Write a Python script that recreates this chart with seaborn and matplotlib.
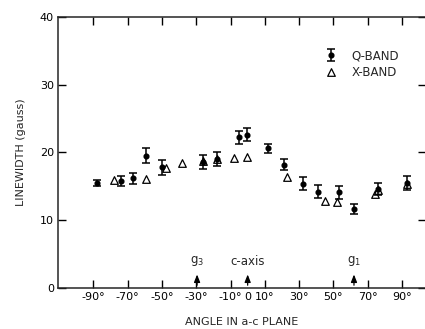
import seaborn as sns
import pandas as pd
import matplotlib
matplotlib.use("Agg")
import matplotlib.pyplot as plt

# Q-band linewidths (with error bars) and X-band linewidths, angle in a-c plane
q_angle = [-88, -74, -67, -59, -50, -26, -18, -5, -0.5, 12, 21, 32, 41, 53, 62, 76, 93]
q_width = [15.5, 15.8, 16.2, 19.5, 17.8, 18.6, 19.0, 22.2, 22.6, 20.6, 18.2, 15.4, 14.2, 14.1, 11.7, 14.6, 15.5]
q_err = [0.4, 0.75, 0.8, 1.1, 1.1, 1.0, 1.0, 0.95, 1.0, 0.65, 0.8, 1.0, 1.0, 1.0, 0.75, 0.9, 1.0]

x_angle = [-78, -59, -47.5, -38, -26, -18, -8, -0.5, 23, 45, 52, 74, 76, 93]
x_width = [15.9, 16.1, 17.7, 18.4, 18.7, 19.0, 19.2, 19.3, 16.3, 12.9, 12.7, 13.8, 14.5, 15.4]

tick_pos = [-90, -70, -50, -30, -10, 0, 10, 30, 50, 70, 90]
tick_text = ["-90°", "-70°", "-50°", "-30°", "-10°", "0", "10°", "30°", "50°", "70°", "90°"]

# marked axes directions: label, angle
marks = [("g$_3$", -29.5), ("c-axis", 0), ("g$_1$", 62)]

q_data = pd.DataFrame({"angle": q_angle, "width": q_width, "err": q_err})
x_data = pd.DataFrame({"angle": x_angle, "width": x_width})

sns.set_style("ticks")
plt.rcParams["font.family"] = ["DejaVu Sans"]
plt.rcParams["axes.linewidth"] = 1.1

fig = plt.figure(figsize=(4.25, 3.29), dpi=100)
ax = fig.add_axes([58 / 425, 41 / 329, 368 / 425, 271.3 / 329])

sns.scatterplot(data=x_data, x="angle", y="width", marker="^", s=30,
                facecolor="white", edgecolor="black", linewidth=0.9, ax=ax, zorder=2)
eb = ax.errorbar(q_data["angle"], q_data["width"], yerr=q_data["err"], fmt="o",
                 color="black", markersize=3.4, capsize=3, elinewidth=1.1,
                 capthick=1.1, zorder=3)

ax.set_xlim(-110.6, 104)
ax.set_ylim(0, 40)
ax.set_xticks(tick_pos)
ax.set_xticklabels(tick_text)
ax.set_yticks([0, 10, 20, 30, 40])
ax.tick_params(direction="in", top=True, right=True, length=6, width=1.0,
               labelsize=8, pad=3, colors="black")
ax.tick_params(axis="y", which="major", right=True)
zero_tick = ax.xaxis.get_major_ticks()[5]
zero_tick.tick1line.set_visible(False)
zero_tick.tick2line.set_visible(False)
ax.spines["right"].set_visible(False)

ax.set_xlabel("ANGLE IN a-c PLANE", fontsize=8, labelpad=11)
ax.set_ylabel("LINEWIDTH (gauss)", fontsize=8, labelpad=10)

for label, ang in marks:
    ax.annotate("", xy=(ang, 2.4), xytext=(ang, 0),
                arrowprops=dict(arrowstyle="-|>,head_width=0.18,head_length=0.45",
                                color="black", lw=0.9))
    ax.text(ang, 2.9, label, ha="center", va="bottom", fontsize=8.5)

tri = ax.collections[0]
ax.legend([eb, tri], ["Q-BAND", "X-BAND"], loc="upper right",
          bbox_to_anchor=(0.955, 0.92), frameon=False, fontsize=8.5,
          handlelength=1.0, handletextpad=1.2, labelspacing=0.3)

fig.savefig("out.png", dpi=100)
